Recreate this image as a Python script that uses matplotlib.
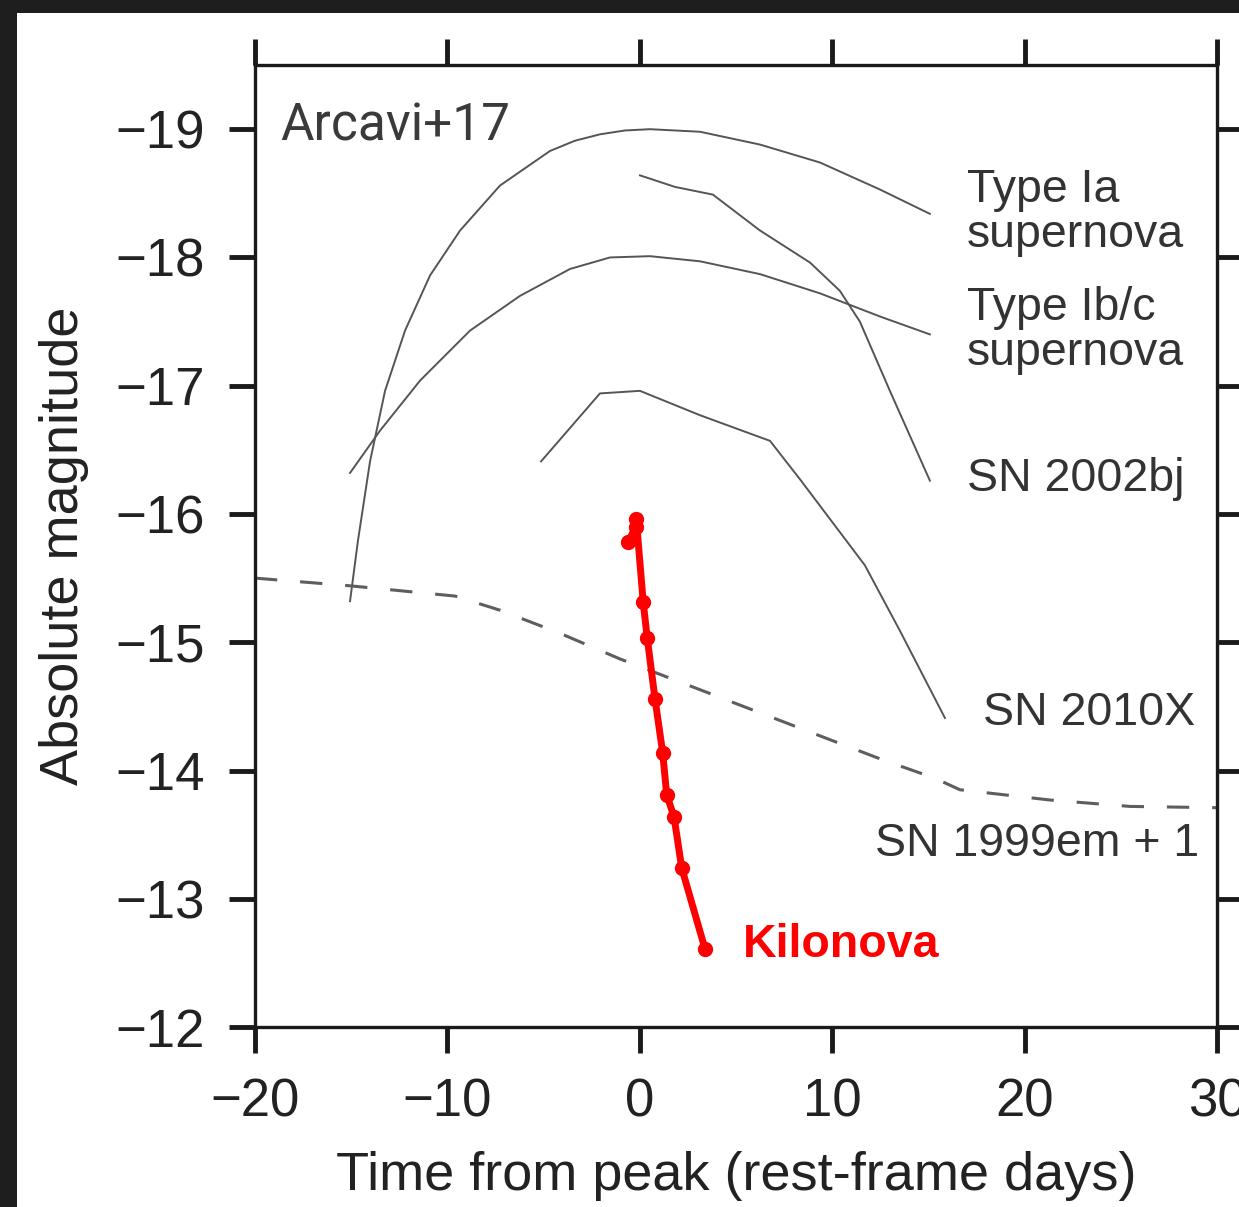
import matplotlib.pyplot as plt
from matplotlib.patches import Rectangle

# light curves (days from peak, absolute magnitude)
ia_t = [-15.06, -14.65, -14.02, -13.24, -12.2, -10.9, -9.34, -7.27, -4.67, -3.37, -2.07, -0.77, 0.53, 3.13, 6.25, 9.37, 12.48, 15.08]
ia_m = [-15.32, -15.79, -16.41, -16.96, -17.43, -17.86, -18.21, -18.56, -18.83, -18.91, -18.96, -18.99, -19.0, -18.98, -18.88, -18.74, -18.53, -18.34]

ibc_t = [-15.06, -13.5, -11.42, -8.82, -6.23, -3.63, -1.55, 0.53, 3.13, 6.25, 9.37, 12.48, 15.08]
ibc_m = [-16.32, -16.65, -17.04, -17.43, -17.70, -17.91, -18.0, -18.01, -17.97, -17.87, -17.72, -17.54, -17.40]

bj_t = [0.01, 1.83, 3.8, 6.25, 8.85, 10.4, 11.44, 13.0, 15.08]
bj_m = [-18.64, -18.55, -18.49, -18.21, -17.96, -17.74, -17.5, -16.96, -16.26]

x10_t = [-5.13, -2.07, 0.01, 3.13, 6.77, 8.33, 11.7, 13.52, 15.86]
x10_m = [-16.41, -16.94, -16.96, -16.77, -16.57, -16.27, -15.60, -15.09, -14.41]

em_t = [-20, -15.06, -9.6, -7.27, -4.15, -1.03, 2.09, 5.73, 9.37, 12.68, 15.34, 16.64, 21.32, 25.48, 30]
em_m = [-15.50, -15.44, -15.36, -15.25, -15.07, -14.87, -14.69, -14.48, -14.27, -14.08, -13.94, -13.85, -13.77, -13.72, -13.71]

kn_t = [-0.60, -0.22, -0.18, 0.18, 0.39, 0.79, 1.19, 1.40, 1.78, 2.18, 3.39]
kn_m = [-15.78, -15.90, -15.96, -15.31, -15.03, -14.56, -14.14, -13.81, -13.64, -13.24, -12.61]

fig = plt.figure(figsize=(12.39, 12.07), dpi=100, facecolor='#1e1e1e')
fig.patches.append(Rectangle((17 / 1239, 0), 1, 1 - 13 / 1207, transform=fig.transFigure,
                             facecolor='white', edgecolor='none', zorder=-10))
ax = fig.add_axes([0.2058, 0.1491, 0.7764, 0.797])

grey = '#555555'
ax.plot(ia_t, ia_m, color=grey, lw=1.4)
ax.plot(ibc_t, ibc_m, color=grey, lw=1.4)
ax.plot(bj_t, bj_m, color=grey, lw=1.4)
ax.plot(x10_t, x10_m, color=grey, lw=1.4)
ax.plot(em_t, em_m, color='#5e5e5e', lw=2.2, dashes=(7.3, 7.5))
ax.plot(kn_t, kn_m, color='red', lw=5, marker='o', markersize=10)

ax.set_xlim(-20, 30)
ax.set_ylim(-12, -19.5)
ax.set_xticks([-20, -10, 0, 10, 20, 30])
ax.set_yticks([-19, -18, -17, -16, -15, -14, -13, -12])

for s in ax.spines.values():
    s.set_linewidth(2.4)
    s.set_color('#1a1a1a')
ax.tick_params(direction='out', length=19, width=3.5, top=True, right=True,
               labelsize=38, pad=17, colors='#1a1a1a', labelcolor='#222222')

lab = dict(family='Liberation Sans', color='#222222')
ax.set_xlabel('Time from peak (rest-frame days)', fontsize=39, labelpad=17, **lab)
ax.set_ylabel('Absolute magnitude', fontsize=39, labelpad=19, **lab)
for t in ax.get_xticklabels() + ax.get_yticklabels():
    t.set_family('Liberation Sans')

txt = dict(family='Liberation Sans', fontsize=33.5, color='#333333', va='center', ha='left')
ax.text(17.0, -18.35, 'Type Ia\nsupernova', linespacing=1.05, **txt)
ax.text(17.0, -17.43, 'Type Ib/c\nsupernova', linespacing=1.05, **txt)
ax.text(17.0, -16.27, 'SN 2002bj', **txt)
ax.text(17.84, -14.45, 'SN 2010X', **txt)
ax.text(12.22, -13.43, 'SN 1999em + 1', **txt)
ax.text(5.36, -12.64, 'Kilonova', family='Liberation Sans', fontsize=33.5, color='red',
        fontweight='bold', va='center', ha='left')
ax.text(-18.7, -19.02, 'Arcavi+17', family='Roboto', fontsize=37, color='#3a3a3a',
        va='center', ha='left')

fig.savefig('out.png', dpi=100, facecolor=fig.get_facecolor())
